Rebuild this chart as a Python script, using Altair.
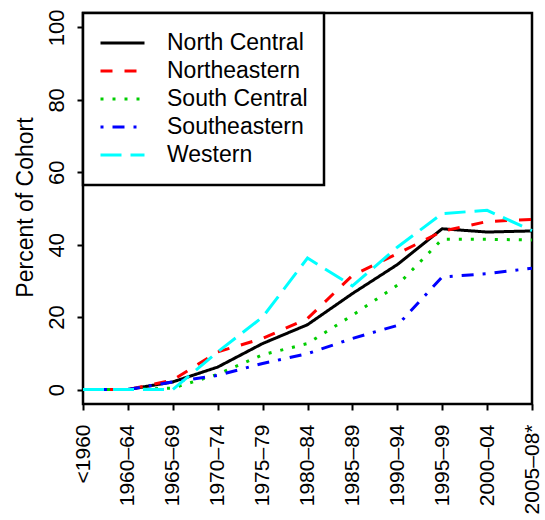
import altair as alt
import pandas as pd

periods = ["<1960", "1960–64", "1965–69", "1970–74", "1975–79", "1980–84",
           "1985–89", "1990–94", "1995–99", "2000–04", "2005–08*"]
regions = ["North Central", "Northeastern", "South Central", "Southeastern", "Western"]

north_central = [0, 0, 2.1, 6.2, 12.7, 17.9, 26.5, 34.5, 44.4, 43.5, 43.8]
northeastern = [0, 0, 2.6, 10.4, 14.1, 19.6, 31.5, 37.5, 43.7, 46.4, 47.0]
south_central = [0, 0, 0.4, 4.2, 9.6, 12.7, 20.5, 28.8, 41.5, 41.5, 41.3]
southeastern = [0, 0, 2.1, 3.9, 7.2, 9.9, 14.1, 17.7, 31.1, 32.0, 33.5]
western = [0, 0, 0, 10.4, 20.0, 36.3, 28.6, 39.3, 48.6, 49.5, 43.9]

colors = ["#000000", "#FF0000", "#00CD00", "#0000FF", "#00FFFF"]
dashes = [[1, 0], [12, 12], [3, 9], [3, 9, 12, 9], [21, 9]]

series = [north_central, northeastern, south_central, southeastern, western]
rows = []
for reg, vals in zip(regions, series):
    for p, v in zip(periods, vals):
        rows.append({"Period": p, "Region": reg, "Percent": v})
df = pd.DataFrame(rows)

FONT = "Liberation Sans"

chart = alt.Chart(df).mark_line(strokeWidth=3, strokeCap="butt").encode(
    x=alt.X("Period:N", sort=periods,
            scale=alt.Scale(type="point", padding=0),
            axis=alt.Axis(title=None, labelAngle=270, labelAlign="right",
                          labelBaseline="middle", labelPadding=14,
                          labelFontSize=21,
                          tickSize=6, domain=False)),
    y=alt.Y("Percent:Q",
            scale=alt.Scale(domain=[-4, 104], nice=False, zero=False),
            axis=alt.Axis(title="Percent of Cohort", values=[0, 20, 40, 60, 80, 100],
                          labelAngle=270, labelAlign="center",
                          labelBaseline="alphabetic", labelPadding=14,
                          tickSize=6, domain=False,
                          titleAngle=270, titleAlign="center",
                          titleBaseline="alphabetic", titleX=-51, titleY=194)),
    color=alt.Color("Region:N", sort=regions,
                    scale=alt.Scale(domain=regions, range=colors),
                    legend=alt.Legend(title=None)),
    strokeDash=alt.StrokeDash("Region:N", sort=regions,
                              scale=alt.Scale(domain=regions, range=dashes),
                              legend=alt.Legend(title=None)),
    order=alt.value(0),
).properties(
    width=449, height=391,
    autosize=alt.AutoSizeParams(type="none"),
    padding={"left": 83, "top": 13, "right": 13, "bottom": 116},
).configure_view(
    stroke="black", strokeWidth=2.5
).configure_axis(
    labelFont=FONT, labelFontSize=22, labelColor="black",
    titleFont=FONT, titleFontSize=23, titleColor="black", titleFontWeight="normal",
    tickColor="black", tickWidth=2, grid=False,
).configure_legend(
    orient="top-left", offset=0, padding=16,
    strokeColor="black", strokeWidth=2.5, fillColor="white",
    symbolType="stroke", symbolSize=1936, symbolStrokeWidth=3,
    labelFont=FONT, labelFontSize=23, labelColor="black", labelOffset=21,
    rowPadding=0, clipHeight=28, cornerRadius=0,
)

chart.save("out.html", embed_options={"renderer": "svg", "actions": False})
